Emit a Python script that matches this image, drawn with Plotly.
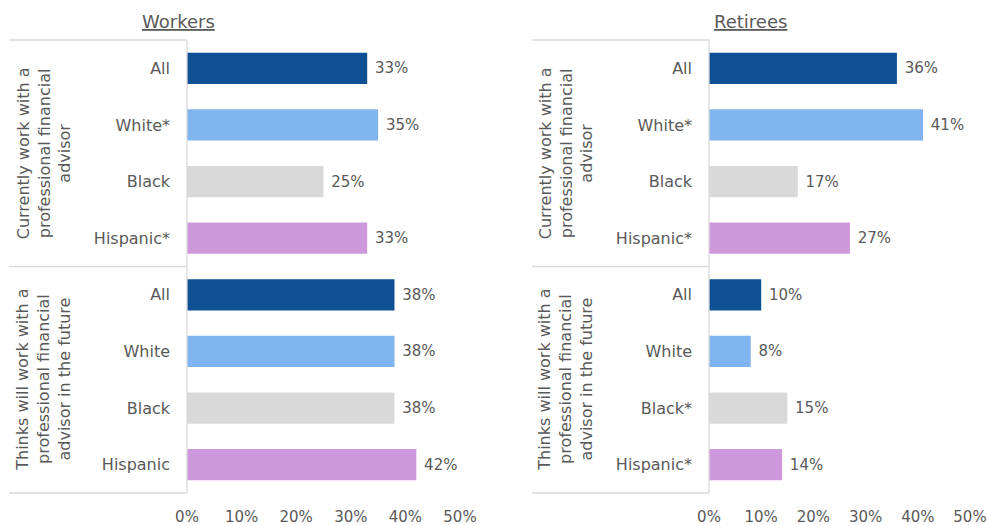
import plotly.graph_objects as go

W, H = 987, 525

groups = ["Currently work with a<br>professional financial<br>advisor",
          "Thinks will work with a<br>professional financial<br>advisor in the future"]
workers_cats = ["All", "White*", "Black", "Hispanic*", "All", "White", "Black", "Hispanic"]
retirees_cats = ["All", "White*", "Black", "Hispanic*", "All", "White", "Black*", "Hispanic*"]
workers_vals = [33, 35, 25, 33, 38, 38, 38, 42]
retirees_vals = [36, 41, 17, 27, 10, 8, 15, 14]
colors = ["#0F4F93", "#7FB4EE", "#D9D9D9", "#CE99DC"] * 2
xticks = [0, 10, 20, 30, 40, 50]
panel_titles = ["Workers", "Retirees"]

TXT = "#595959"
FONT = "DejaVu Sans"
LINE = "#D9D9D9"

def px(x):
    return x / W

def py(y):
    return 1 - y / H

top, bot = 40, 493
mid = (top + bot) / 2
panels = [
    dict(x0=187, x1=460, lx=9, gx=44, tx=178, cats=workers_cats, vals=workers_vals),
    dict(x0=709, x1=970, lx=532, gx=566, tx=750, cats=retirees_cats, vals=retirees_vals),
]

fig = go.Figure()
ypos = list(range(len(workers_cats)))
for i, p in enumerate(panels):
    xa = "x" if i == 0 else "x2"
    ya = "y" if i == 0 else "y2"
    fig.add_trace(go.Bar(
        x=p["vals"], y=ypos, orientation="h", xaxis=xa, yaxis=ya,
        marker=dict(color=colors, line=dict(width=0)), width=0.55,
        text=[f"\u00a0{v}%" for v in p["vals"]], textposition="outside",
        textfont=dict(color=TXT, size=15, family=FONT), cliponaxis=False,
        showlegend=False, hoverinfo="skip"))

layout = dict(
    width=W, height=H, margin=dict(l=0, r=0, t=0, b=0, autoexpand=False),
    autosize=False, template="none",
    paper_bgcolor="white", plot_bgcolor="white",
    font=dict(family=FONT, color=TXT), bargap=0.45,
)
for i, p in enumerate(panels):
    sfx = "" if i == 0 else "2"
    layout["xaxis" + sfx] = dict(
        domain=[px(p["x0"]), px(p["x1"])], range=[0, 50], anchor="y" + sfx,
        tickvals=xticks, ticktext=[f"{t}%" for t in xticks], automargin=False,
        showgrid=False, zeroline=False, showline=False, ticks="",
        tickfont=dict(size=15, color=TXT, family=FONT), ticklabelstandoff=13)
    layout["yaxis" + sfx] = dict(
        domain=[py(bot), py(top)], range=[7.5, -0.5], anchor="x" + sfx,
        tickvals=ypos, ticktext=p["cats"], showgrid=False, zeroline=False,
        showline=False, ticks="", ticklabelstandoff=16, automargin=False,
        tickfont=dict(size=16, color=TXT, family=FONT))
fig.update_layout(**layout)

shapes = []
anns = []
for i, p in enumerate(panels):
    for yy in (top, mid, bot):
        shapes.append(dict(type="line", xref="paper", yref="paper",
                           x0=px(p["lx"]), x1=px(p["x0"]), y0=py(yy), y1=py(yy),
                           line=dict(color=LINE, width=1.3)))
    shapes.append(dict(type="line", xref="paper", yref="paper",
                       x0=px(p["x0"]), x1=px(p["x0"]), y0=py(top), y1=py(bot),
                       line=dict(color=LINE, width=1.3)))
    for g, gtxt in enumerate(groups):
        gy = (top + mid) / 2 if g == 0 else (mid + bot) / 2
        anns.append(dict(xref="paper", yref="paper", x=px(p["gx"]), y=py(gy),
                         text=gtxt, showarrow=False, textangle=-90,
                         font=dict(size=16, color=TXT, family=FONT),
                         xanchor="center", yanchor="middle"))
    anns.append(dict(xref="paper", yref="paper", x=px(p["tx"]), y=py(21),
                     text=f"<u>{panel_titles[i]}</u>", showarrow=False,
                     font=dict(size=18, color=TXT, family=FONT),
                     xanchor="center", yanchor="middle"))
fig.update_layout(shapes=shapes, annotations=anns)

fig.write_html("out.html")
